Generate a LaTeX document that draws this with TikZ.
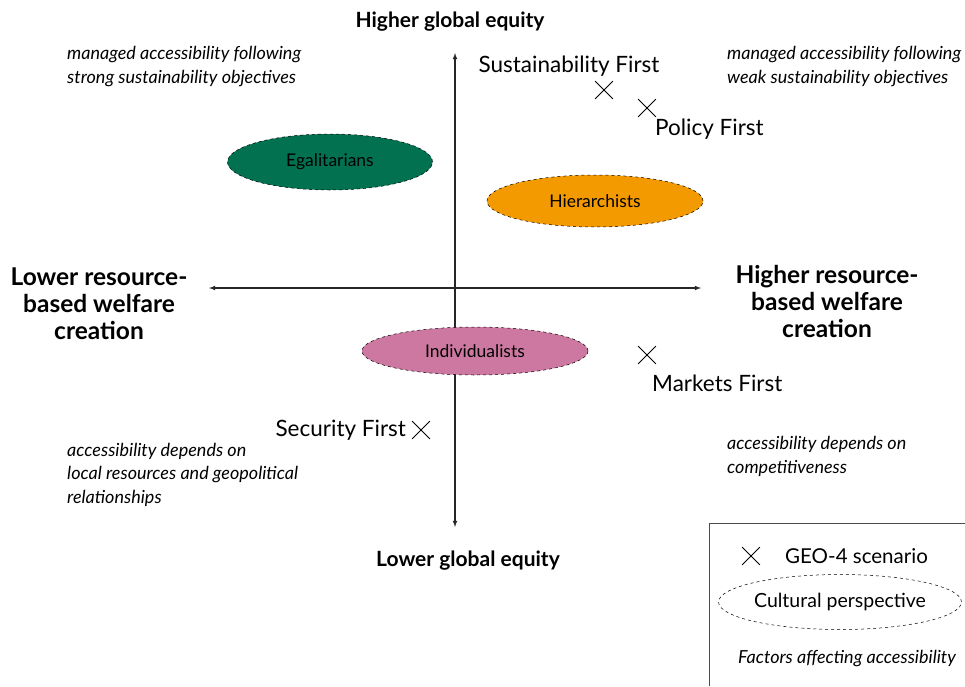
\documentclass[tikz,border=0pt]{standalone}
\usepackage{fontspec}
\setmainfont{Lato}
\usetikzlibrary{arrows, shapes, shapes.misc, positioning}

\definecolor{egagreen}{RGB}{2,113,80}
\definecolor{hierorange}{RGB}{243,154,0}
\definecolor{indpink}{RGB}{204,120,160}

\begin{document}
\begin{tikzpicture}[x=1pt,y=-1pt,
    axis/.style={<->,>=latex,line width=1.1pt,draw=black!85},
    culture/.style={ellipse,draw,dashed,line width=0.5pt,inner sep=0pt,font=\fontsize{17.5}{20}\selectfont},
    scen/.style={cross out,draw,line width=0.8pt,minimum size=17pt,inner sep=0pt},
    scenlabel/.style={font=\fontsize{22.5}{26}\selectfont,inner sep=0pt},
    axislabel/.style={font=\fontsize{21}{27}\selectfont\bfseries,align=center,inner sep=0pt},
    sidelabel/.style={axislabel,font=\fontsize{24.5}{27}\selectfont\bfseries},
    factor/.style={font=\fontsize{18}{23.5}\selectfont\itshape,align=left,anchor=base west,inner sep=0pt}]
    \useasboundingbox (0,0) rectangle (965,686);

    % axes
    \coordinate (top) at (455,53);
    \coordinate (bottom) at (455,527);
    \coordinate (left) at (209,288);
    \coordinate (right) at (701,288);
    \draw[axis] (bottom) -- (top);
    \draw[axis] (left) -- (right);

    \node[axislabel] (equityhi) at (450,22) {Higher global equity};
    \node[axislabel] (equitylo) at (468,561) {Lower global equity};
    \node[sidelabel] (welfarelo) at (99,304) {Lower resource-\\based welfare\\creation};
    \node[sidelabel] (welfarehi) at (827,301) {Higher resource-\\based welfare\\creation};

    % factors affecting accessibility (anchored at the last baseline)
    \node[factor] (strong) at (67,83) {managed accessibility following\\strong sustainability objectives};
    \node[factor] (weak) at (727,83) {managed accessibility following\\weak sustainability objectives};
    \node[factor] (local) at (67,503) {accessibility depends on\\local resources and geopolitical\\relationships};
    \node[factor] (compet) at (727,473) {accessibility depends on\\competitiveness};

    % cultural perspectives
    \node[culture,fill=egagreen,minimum width=205pt,minimum height=56pt] (egal) at (330,162) {Egalitarians};
    \node[culture,fill=hierorange,minimum width=216pt,minimum height=52pt] (hier) at (595,201) {Hierarchists};
    \node[culture,fill=indpink,minimum width=226pt,minimum height=48pt] (indiv) at (475,351) {Individualists};

    % GEO-4 scenarios
    \node[scen] (sust) at (604,90) {};
    \node[scenlabel] (sustlabel) at (569,66) {Sustainability First};
    \node[scen] (policy) at (647,108) {};
    \node[scenlabel,anchor=west] (policylabel) at (655,129) {Policy First};
    \node[scen] (markets) at (647,355) {};
    \node[scenlabel,anchor=west] (marketslabel) at (652,383) {Markets First};
    \node[scen] (security) at (421,430) {};
    \node[scenlabel,left=6pt of security] (securitylabel) {Security First};

    % legend
    \coordinate (legcorner) at (709,523);
    \draw[line width=0.6pt,draw=black!70] (709,686) -- (legcorner) -- (965,523);
    \node[scen] (legx) at (751,556) {};
    \node[font=\fontsize{20.5}{22}\selectfont,anchor=west,inner sep=0pt] (legxlabel) at (785,556) {GEO-4 scenario};
    \node[culture,minimum width=229pt,minimum height=55pt,font=\fontsize{19.5}{22}\selectfont] (legcult) at (840,602) {Cultural perspective};
    \node[font=\fontsize{18}{20}\selectfont\itshape,inner sep=0pt] (legfactor) at (847,658) {Factors affecting accessibility};
\end{tikzpicture}
\end{document}
